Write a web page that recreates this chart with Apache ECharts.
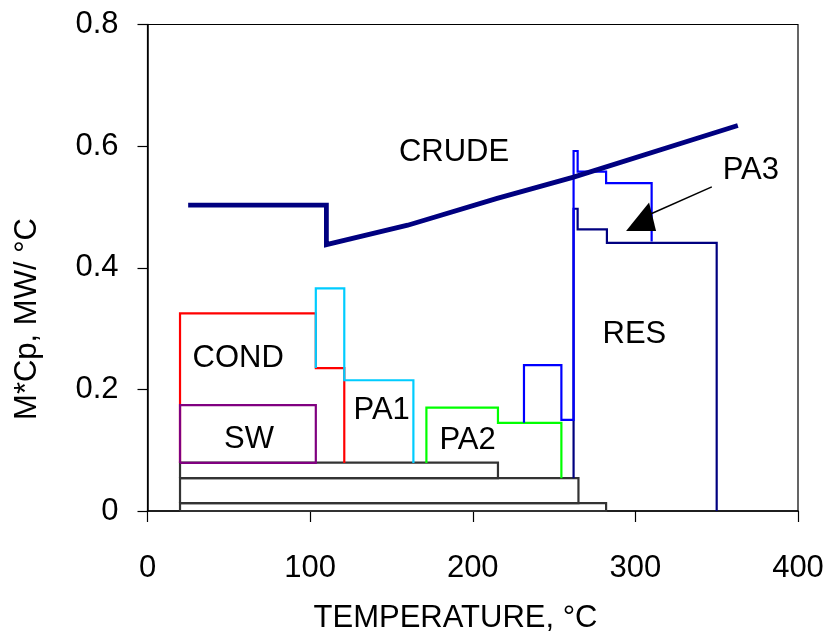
<!DOCTYPE html>
<html>
<head>
<meta charset="utf-8">
<script src="https://cdn.jsdelivr.net/npm/echarts@6/dist/echarts.min.js"></script>
<style>html,body{margin:0;padding:0;background:#fff;}#chart{width:831px;height:637px;}</style>
</head>
<body>
<div id="chart"></div>
<script>
// Tick labels
const xTicks = [0, 100, 200, 300, 400];
const yTicks = [0, 0.2, 0.4, 0.6, 0.8];

// Curves: [temperature °C, M*Cp MW/°C]
const crude = [[25, 0.503], [110, 0.503], [110, 0.438], [160, 0.470], [215, 0.514], [262, 0.549], [363, 0.634]];
const cond  = [[20, 0.079], [20, 0.325], [103.5, 0.325], [103.5, 0.235], [121, 0.235], [121, 0.079]];
const sw    = [[20, 0.079], [20, 0.174], [103.5, 0.174], [103.5, 0.079], [20, 0.079]];
const pa1   = [[103.5, 0.235], [103.5, 0.366], [121, 0.366], [121, 0.215], [163.5, 0.215], [163.5, 0.079]];
const pa2   = [[171.5, 0.079], [171.5, 0.170], [215.5, 0.170], [215.5, 0.145], [254.5, 0.145], [254.5, 0.054]];
const pa3   = [[231.5, 0.145], [231.5, 0.240], [254.5, 0.240], [254.5, 0.150], [262, 0.150], [262, 0.592], [264.5, 0.592], [264.5, 0.558], [282, 0.558], [282, 0.539], [310, 0.539], [310, 0.443]];
const res   = [[262, 0.054], [262, 0.497], [264.5, 0.497], [264.5, 0.463], [282.5, 0.463], [282.5, 0.441], [350, 0.441], [350, 0]];
const box1  = [[20, 0.054], [215.5, 0.054], [215.5, 0.0795], [20, 0.0795], [20, 0.054]];
const box2  = [[20, 0.013], [265, 0.013], [265, 0.054], [20, 0.054], [20, 0.013]];
const box3  = [[20, 0], [282, 0], [282, 0.013], [20, 0.013], [20, 0]];

// Text annotations
const labelNames = ['CRUDE', 'COND', 'SW', 'PA1', 'PA2', 'RES', 'PA3'];
const labelAt    = [[188.5, 0.589], [55.8, 0.251], [62.4, 0.117], [144, 0.166], [196.8, 0.116], [299.4, 0.291], [371, 0.560]];
const arrowLine  = [[347, 0.533], [309, 0.488]];
const arrowHead  = [[303.5, 0.484]];

const FONT = 'Liberation Sans, Arial, sans-serif';
const chart = echarts.init(document.getElementById('chart'), null, {renderer: 'canvas'});

function lineSeries(data, color, width, z) {
  return {
    type: 'line', data: data, showSymbol: false, symbol: 'none',
    lineStyle: {color: color, width: width, join: 'miter', cap: 'butt', opacity: 1},
    animation: false, silent: true, z: z || 2
  };
}

const option = {
  animation: false,
  backgroundColor: '#fff',
  grid: {left: 147.5, right: 33, top: 24.5, bottom: 126, show: true, borderColor: '#000', borderWidth: 1.2, containLabel: false},
  xAxis: {
    type: 'value', min: xTicks[0], max: xTicks[xTicks.length - 1], interval: 100,
    axisLine: {show: true, onZero: false, lineStyle: {color: '#000', width: 1.5}},
    axisTick: {show: true, inside: false, length: 11, lineStyle: {color: '#000', width: 1.2}},
    axisLabel: {margin: 42, fontSize: 31, color: '#000', fontFamily: FONT},
    splitLine: {show: false}
  },
  yAxis: {
    type: 'value', min: yTicks[0], max: yTicks[yTicks.length - 1], interval: 0.2,
    axisLine: {show: true, onZero: false, lineStyle: {color: '#000', width: 1.5}},
    axisTick: {show: true, inside: false, length: 10, lineStyle: {color: '#000', width: 1.2}},
    axisLabel: {margin: 29, fontSize: 31, color: '#000', fontFamily: FONT},
    splitLine: {show: false}
  },
  graphic: [
    {type: 'text', x: 455.5, y: 618, style: {text: 'TEMPERATURE, °C', fontSize: 31, fontFamily: FONT, fill: '#000', align: 'center', verticalAlign: 'middle'}},
    {type: 'text', x: 27.5, y: 319, rotation: Math.PI / 2, style: {text: 'M*Cp, MW/ °C', fontSize: 31, fontFamily: FONT, fill: '#000', align: 'center', verticalAlign: 'middle'}}
  ],
  series: [
    lineSeries(box3, '#333', 2.2),
    lineSeries(box2, '#333', 2.2),
    lineSeries(box1, '#333', 2.2),
    lineSeries(cond, '#FF0000', 2.2),
    lineSeries(sw, '#800080', 2.2),
    lineSeries(pa1, '#00CCFF', 2.2),
    lineSeries(pa2, '#00FF00', 2.2),
    lineSeries(res, '#000080', 2.2),
    lineSeries(pa3, '#0000FF', 2.2, 3),
    lineSeries(crude, '#000080', 4.8, 4),
    lineSeries(arrowLine, '#000', 1.5, 5),
    {
      type: 'scatter', data: arrowHead, symbol: 'path://M0,28 L23,0 L30,28 Z', symbolSize: [30, 28.5],
      itemStyle: {color: '#000', opacity: 1}, animation: false, silent: true, z: 6
    },
    {
      type: 'scatter', symbolSize: 0, animation: false, silent: true, z: 7,
      itemStyle: {opacity: 1},
      data: labelAt.map((p, i) => ({value: p, name: labelNames[i]})),
      label: {show: true, position: 'inside', formatter: p => p.name, fontSize: 31, fontFamily: FONT, color: '#000', opacity: 1, align: 'center', verticalAlign: 'middle'}
    }
  ]
};
chart.setOption(option);
</script>
</body>
</html>
